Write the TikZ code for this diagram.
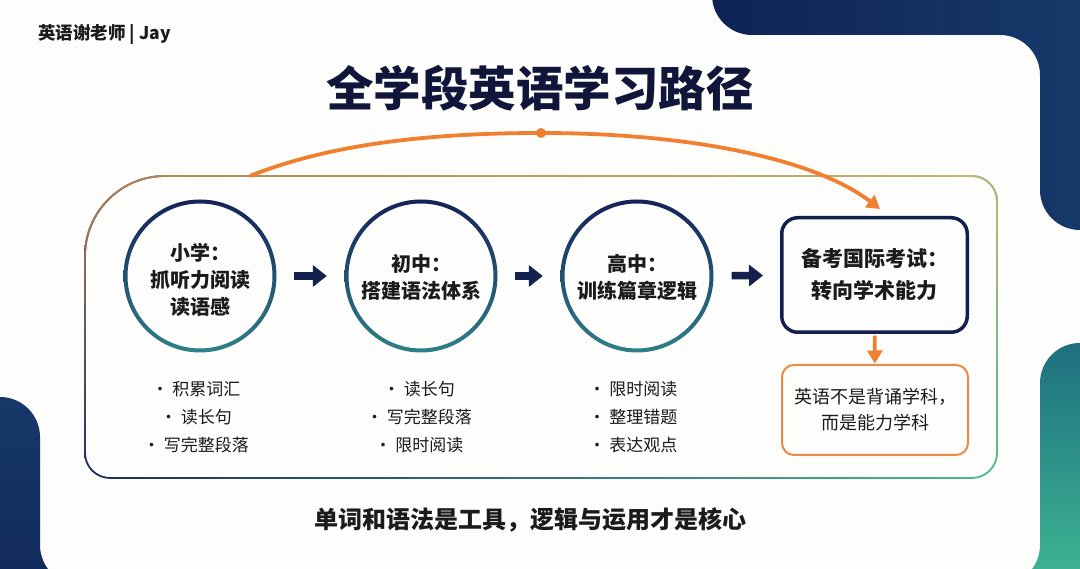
\documentclass[tikz,border=0pt]{standalone}
\usepackage{fontspec}
\setmainfont{Noto Sans CJK SC}
\IfFontExistsTF{Noto Sans CJK SC Black}{\newfontfamily\titlefont{Noto Sans CJK SC Black}}{\newcommand\titlefont{\bfseries}}
\usetikzlibrary{arrows.meta,fadings}
\definecolor{bgc}{HTML}{FDFDFB}
\definecolor{ink}{HTML}{1B1B1B}
\definecolor{titleink}{HTML}{10163A}
\definecolor{ringtop}{HTML}{15225A}
\definecolor{ringmid}{HTML}{1B3565}
\definecolor{ringbot}{HTML}{2F8087}
\definecolor{arrownavy}{HTML}{14214F}
\definecolor{boxnavy}{HTML}{13204E}
\definecolor{arcorange}{HTML}{F08030}
\definecolor{noteorange}{HTML}{EE8A48}
\definecolor{framel}{HTML}{1E2C5E}
\definecolor{framem}{HTML}{2F7E88}
\definecolor{framer}{HTML}{4DBB8E}
\definecolor{ovl}{HTML}{B98255}
\definecolor{ovm}{HTML}{F0843A}
\definecolor{ovr}{HTML}{C3B47A}
\definecolor{blobnavyA}{HTML}{0F2355}
\definecolor{blobnavyB}{HTML}{173E6E}
\definecolor{blobtealA}{HTML}{1E6F7F}
\definecolor{blobtealB}{HTML}{4BD09B}
\tikzfading[name=topfade, top color=transparent!0, middle color=transparent!100, bottom color=transparent!100]
\newcommand\framepath[1]{({85-(#1)},116) -- ({85-(#1)},313) arc[start angle=180,end angle=90,radius={(80+(#1))*1pt}] -- (972,{393+(#1)}) arc[start angle=90,end angle=0,radius={(25+(#1))*1pt}] -- ({997+(#1)},116) arc[start angle=0,end angle=-90,radius={(25+(#1))*1pt}] -- (110,{91-(#1)}) arc[start angle=-90,end angle=-180,radius={(25+(#1))*1pt}] -- cycle}
\begin{document}
\begin{tikzpicture}[x=1pt,y=1pt,
  circshape/.style={circle, minimum size=150pt, inner sep=0pt},
  circtext/.style={align=center, text=ink, inner sep=0pt, font=\fontsize{20}{27}\selectfont\bfseries},
  blockarrow/.style={line width=7.5pt, draw=arrownavy, -{Triangle[width=21pt,length=14pt]}},
  bullets/.style={align=center, text=ink, font=\fontsize{17}{28}\selectfont},
  orangearrow/.style={line width=3.8pt, draw=arcorange, -{Triangle[width=15pt,length=13pt]}}
]
\useasboundingbox (0,0) rectangle (1080,569);
\fill[bgc] (0,0) rectangle (1080,569);
\begin{scope}
\clip (0,0) rectangle (1080,569);
\shade[left color=blobnavyA, right color=blobnavyB, rounded corners=40pt]
  (712,640) -- (712,534) -- (1040,534) -- (1040,339) -- (1160,339) -- (1160,640) -- cycle;
\shade[top color=blobnavyB!80!blobnavyA, bottom color=blobnavyA, rounded corners=40pt]
  (-80,172) -- (40,172) -- (40,-16) -- (140,-16) -- (140,-100) -- (-80,-100) -- cycle;
\shade[top color=blobtealA, bottom color=blobtealB, rounded corners=40pt]
  (1160,226) -- (1040,226) -- (1040,-16) -- (940,-16) -- (940,-100) -- (1160,-100) -- cycle;
\end{scope}

% outer frame
\shade[even odd rule, left color=framel, middle color=framem, right color=framer] \framepath{0.9} \framepath{-0.9};
\shade[even odd rule, path fading=topfade, left color=ovl, middle color=ovm, right color=ovr] \framepath{0.9} \framepath{-0.9};

% header texts
\node[anchor=west, text=ink, font=\fontsize{17.5}{20}\selectfont\bfseries, inner sep=0pt] (tag) at (38,534) {英语谢老师 | Jay};
\node[text=titleink, font=\fontsize{47.5}{52}\selectfont\titlefont, inner sep=0pt] (title) at (540,481) {全学段英语学习路径};

% stage circles
\node[circshape] (c1) at (200,293) {};
\node[circshape] (c2) at (421,293) {};
\node[circshape] (c3) at (637,293) {};
\node[circtext] (c1t) at ([yshift=-4pt]c1.center) {小学：\\抓听力阅读\\读语感};
\node[circtext] (c2t) at ([yshift=-1pt]c2.center) {初中：\\搭建语法体系};
\node[circtext] (c3t) at ([yshift=-1pt]c3.center) {高中：\\训练篇章逻辑};
\foreach \c in {c1,c2,c3}{
  \shade[even odd rule, top color=ringtop, middle color=ringmid, bottom color=ringbot]
    (\c.center) circle[radius=76.5pt] (\c.center) circle[radius=72.5pt];
}

% goal box and note
\node[draw=boxnavy, line width=3.5pt, rounded corners=16pt, minimum width=185.5pt, minimum height=114.5pt,
  align=center, text=ink, font=\fontsize{21}{32}\selectfont\bfseries] (box) at (874.5,294) {备考国际考试：\\转向学术能力};
\node[draw=noteorange, line width=2pt, rounded corners=12pt, minimum width=186pt, minimum height=90pt,
  align=center, text=ink, font=\fontsize{18}{26}\selectfont] (note) at (875,159) {英语不是背诵学科，\\而是能力学科};

% block arrows
\draw[blockarrow, shorten <=19pt, shorten >=19pt] (c1) -- (c2);
\draw[blockarrow, shorten <=19pt, shorten >=19pt] (c2) -- (c3);
\draw[blockarrow, shorten <=19.5pt, shorten >=17pt] (c3) -- (box);

% orange connectors
\draw[orangearrow, shorten <=1.7pt, shorten >=0.5pt] (box) -- (note);
\coordinate (arcstart) at (250,393);
\coordinate (arcend) at (880,360);
\node[circle, fill=arcorange, minimum size=10pt, inner sep=0pt] (peak) at (541,436) {};
\draw[orangearrow] (arcstart) .. controls (330,425) and (430,436) .. (peak.center) .. controls (690,436) and (815,410) .. (arcend);

% bullet lists
\node[bullets] (b1) at (196,152) {• 积累词汇\\• 读长句\\• 写完整段落};
\node[bullets] (b2) at (419,152) {• 读长句\\• 写完整段落\\• 限时阅读};
\node[bullets] (b3) at (633,152) {• 限时阅读\\• 整理错题\\• 表达观点};

% motto
\node[text=ink, font=\fontsize{24}{28}\selectfont\bfseries, inner sep=0pt] (motto) at (530.5,49) {单词和语法是工具，逻辑与运用才是核心};
\end{tikzpicture}
\end{document}
